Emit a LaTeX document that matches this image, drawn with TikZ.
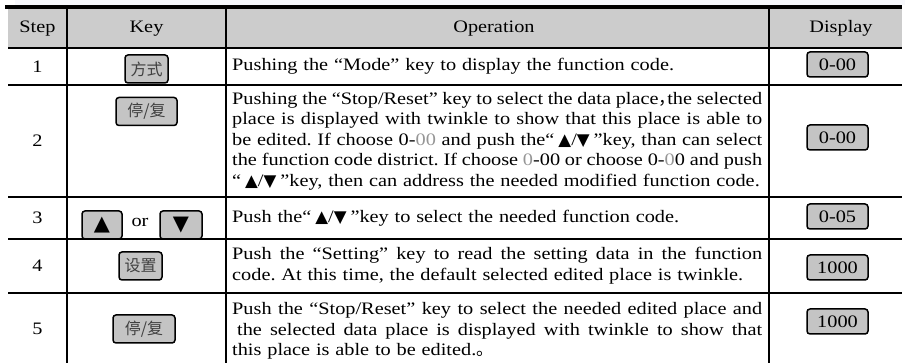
\documentclass[tikz,border=0pt]{standalone}
\usepackage{fontspec}
\setmainfont{Liberation Serif}[FakeStretch=1.16]
\newfontfamily\cjk{Noto Sans CJK SC}
\newfontfamily\sym{DejaVu Sans}[Scale=0.95]
\usetikzlibrary{positioning}

\definecolor{headgray}{RGB}{204,204,204}
\definecolor{keygray}{RGB}{196,196,196}
\definecolor{selgray}{RGB}{150,150,150}
\definecolor{capbg}{RGB}{247,248,252}

\frenchspacing
\newlength{\opw}\setlength{\opw}{530pt}
\newcommand{\jl}[1]{{\spaceskip=4.8pt plus 8pt minus 2.4pt\makebox[\opw][s]{\strut#1}}}
\newcommand{\ud}{“\hspace{4pt}{\sym ▲}/{\sym ▼}\hspace{4pt}”}
\newcommand{\fwcomma}{\makebox[0.5em][l]{\cjk ，}}

\begin{document}
\begin{tikzpicture}[
  x=1pt, y=-1pt,
  font=\fontsize{17.5}{20.5}\selectfont,
  rule/.style={line width=1.6pt},
  keybox/.style={draw, line width=1.5pt, rounded corners=3pt, fill=keygray,
    inner sep=0pt, minimum height=28pt, text=black!75,
    font=\cjk\fontsize{16}{16}\selectfont},
  disp/.style={draw, line width=1.5pt, rounded corners=3pt, fill=keygray,
    inner sep=0pt, minimum width=61pt, minimum height=25pt},
  op/.style={anchor=west, inner sep=0pt, text width=\opw, align=left}
]
  \useasboundingbox (0,0) rectangle (911,363);

  % caption strip, header band and rules
  \fill[capbg] (15,0) rectangle (905,5);
  \fill[headgray] (8,9) rectangle (902,48);
  \draw[line width=4pt] (5,7) -- (902,7);
  \foreach \y in {48,85,197,239,293}
    \draw[rule] (8,\y) -- (902,\y);
  \foreach \x in {67,226,769}
    \draw[rule] (\x,9) -- (\x,363);

  % header
  \node (hstep) at (37.5,28.5) {Step};
  \node (hkey)  at (146.5,28.5) {Key};
  \node (hop)   at (494,28.5) {Operation};
  \node (hdisp) at (841,28.5) {Display};

  % step numbers
  \node (s1) at (37.5,66.5) {1};
  \node (s2) at (37.5,141) {2};
  \node (s3) at (37.5,218) {3};
  \node (s4) at (37.5,266) {4};
  \node (s5) at (37.5,329) {5};

  % keys
  \node[keybox, minimum width=43pt] (kmode) at (146.5,69) {方式};
  \node[keybox, minimum width=61pt] (kstop) at (146.5,111.5) {停/复};
  \node[keybox, minimum width=40pt, font=\sym\fontsize{22}{22}\selectfont, text=black]
    (kup) at (102,225) {▲};
  \node (kor) at (140,222) {or};
  \node[keybox, minimum width=42pt, font=\sym\fontsize{22}{22}\selectfont, text=black]
    (kdown) at (181,225) {▼};
  \node[keybox, minimum width=43pt] (kset) at (140.5,266) {设置};
  \node[keybox, minimum width=62pt] (kstopb) at (144,329) {停/复};

  % operations
  \node[op] (op1) at (232,66.5) {\strut Pushing the “Mode” key to display the function code.};
  \node[op] (op2) at (232,141) {%
    \jl{Pushing the “Stop/Reset” key to select the data place\fwcomma the selected}\\
    \jl{place is displayed with twinkle to show that this place is able to}\\
    \jl{be edited. If choose 0-\textcolor{selgray}{00} and push the\ud key, than can select}\\
    \jl{the function code district. If choose \textcolor{selgray}{0}-00 or choose 0-\textcolor{selgray}{0}0 and push}\\
    \strut\ud key, then can address the needed modified function code.};
  \node[op] (op3) at (232,218) {\strut Push the\ud key to select the needed function code.};
  \node[op] (op4) at (232,266) {%
    \jl{Push the “Setting” key to read the setting data in the function}\\
    \strut code. At this time, the default selected edited place is twinkle.};
  \node[op] (op5) at (232,331) {%
    \jl{Push the “Stop/Reset” key to select the needed edited place and}\\
    \jl{\hspace*{5pt}the selected data place is displayed with twinkle to show that}\\
    \strut this place is able to be edited.{\cjk 。}};

  % displays
  \node[disp] (d1) at (837.5,64.5) {0-00};
  \node[disp] (d2) at (837.5,137.5) {0-00};
  \node[disp] (d3) at (837.5,216.5) {0-05};
  \node[disp] (d4) at (837.5,267.5) {1000};
  \node[disp] (d5) at (837.5,321.5) {1000};
\end{tikzpicture}
\end{document}
